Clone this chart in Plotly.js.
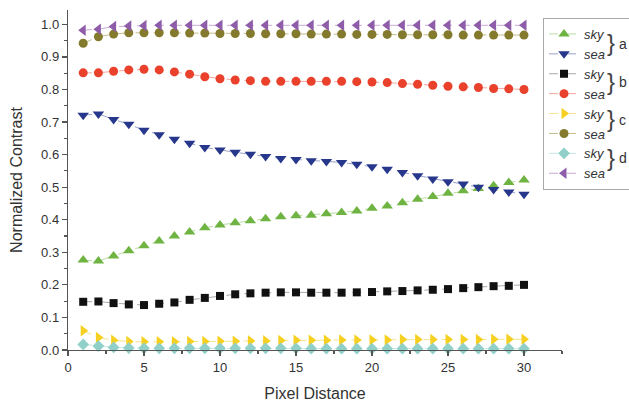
<!DOCTYPE html>
<html>
<head>
<meta charset="utf-8">
<script src="https://cdn.plot.ly/plotly-3.0.1.min.js"></script>
<style>html,body{margin:0;padding:0;background:#fff;}#chart{width:629px;height:403px;}</style>
</head>
<body>
<div id="chart"></div>
<script>
// ---- data ----
var pixelDistance = [1,2,3,4,5,6,7,8,9,10,11,12,13,14,15,16,17,18,19,20,21,22,23,24,25,26,27,28,29,30];
var skyA = [0.276,0.273,0.289,0.305,0.320,0.335,0.350,0.362,0.375,0.384,0.391,0.397,0.403,0.409,0.412,0.414,0.418,0.422,0.427,0.435,0.442,0.452,0.463,0.471,0.481,0.489,0.496,0.504,0.514,0.522];
var seaA = [0.721,0.725,0.708,0.693,0.675,0.661,0.647,0.635,0.622,0.614,0.607,0.601,0.594,0.588,0.585,0.581,0.579,0.576,0.570,0.563,0.555,0.545,0.535,0.525,0.517,0.510,0.500,0.493,0.485,0.478];
var skyB = [0.148,0.149,0.144,0.140,0.138,0.142,0.146,0.154,0.160,0.166,0.171,0.174,0.176,0.177,0.177,0.176,0.176,0.176,0.177,0.178,0.180,0.181,0.183,0.185,0.187,0.190,0.193,0.196,0.197,0.200];
var seaB = [0.851,0.851,0.856,0.860,0.862,0.860,0.854,0.847,0.839,0.833,0.829,0.827,0.825,0.825,0.825,0.825,0.825,0.825,0.824,0.823,0.821,0.818,0.816,0.813,0.810,0.808,0.806,0.803,0.802,0.800];
var skyC = [0.059,0.038,0.030,0.026,0.025,0.025,0.025,0.026,0.026,0.027,0.027,0.028,0.028,0.029,0.030,0.030,0.030,0.031,0.031,0.031,0.031,0.032,0.032,0.032,0.032,0.032,0.032,0.033,0.033,0.033];
var seaC = [0.942,0.962,0.970,0.974,0.974,0.974,0.974,0.973,0.973,0.972,0.972,0.972,0.971,0.971,0.971,0.970,0.970,0.970,0.969,0.969,0.969,0.968,0.968,0.968,0.968,0.967,0.967,0.967,0.967,0.967];
var skyD = [0.017,0.012,0.008,0.006,0.005,0.005,0.005,0.005,0.005,0.005,0.005,0.005,0.005,0.005,0.005,0.004,0.004,0.004,0.004,0.004,0.004,0.004,0.004,0.004,0.004,0.004,0.004,0.004,0.004,0.004];
var seaD = [0.982,0.985,0.993,0.995,0.996,0.997,0.997,0.997,0.997,0.997,0.997,0.997,0.997,0.997,0.997,0.997,0.997,0.997,0.997,0.997,0.997,0.997,0.997,0.997,0.997,0.997,0.997,0.997,0.997,0.997];
var seriesNames = ['sky','sea','sky','sea','sky','sea','sky','sea'];
var groupLetters = ['a','b','c','d'];
var xTitle = 'Pixel Distance';
var yTitle = 'Normalized Contrast';

// ---- styles ----
var W = 629, H = 403;
var M = {l:68, r:67, t:10, b:53};
var PAD = '\u00a0\u00a0\u00a0\u00a0\u00a0\u00a0';
var styles = [
  {sym:'triangle-up',    mc:'#6fb443', lc:'#b9dca2', size:10},
  {sym:'triangle-down',  mc:'#27378c', lc:'#9aa3cc', size:10},
  {sym:'square',         mc:'#111111', lc:'#aaaaaa', size:8},
  {sym:'circle',         mc:'#e9412c', lc:'#f3a79c', size:9},
  {sym:'triangle-right', mc:'#f6d021', lc:'#f6e38d', size:10},
  {sym:'circle',         mc:'#847a2d', lc:'#c5bd8a', size:9},
  {sym:'diamond',        mc:'#90d0c9', lc:'#c6e8e4', size:9},
  {sym:'triangle-left',  mc:'#8e5ca9', lc:'#c6a9d6', size:10}
];
var ys = [skyA, seaA, skyB, seaB, skyC, seaC, skyD, seaD];

var traces = ys.map(function(y, i){
  var s = styles[i];
  return {
    type:'scatter', mode:'lines+markers',
    x: pixelDistance, y: y,
    name: '<i>' + seriesNames[i] + '</i>' + PAD,
    cliponaxis:false,
    line:{color:s.lc, width:1, dash:'dash'},
    marker:{symbol:s.sym, color:s.mc, size:s.size, line:{width:0}}
  };
});

var plotW = W - M.l - M.r, plotH = H - M.t - M.b;
function pxX(px){ return (px - M.l) / plotW; }
function pxY(py){ return (H - M.b - py) / plotH; }

var legendLeft = 543, legendTop = 18;
var annotations = [];
groupLetters.forEach(function(letter, k){
  var cy = legendTop + 25 + 38*k;
  annotations.push({xref:'paper', yref:'paper', x:pxX(611), y:pxY(cy), xanchor:'center', yanchor:'middle',
    text:'}', showarrow:false, font:{family:'Liberation Sans, Arial, sans-serif', size:24, color:'#444'}});
  annotations.push({xref:'paper', yref:'paper', x:pxX(617), y:pxY(cy + 1), xanchor:'left', yanchor:'middle',
    text:letter, showarrow:false, font:{family:'Liberation Sans, Arial, sans-serif', size:14, color:'#333'}});
});

var axisFont = {family:'Liberation Sans, Arial, sans-serif', size:13, color:'#333'};
var layout = {
  width:W, height:H,
  margin:{l:M.l, r:M.r, t:M.t, b:M.b, pad:0, autoexpand:false},
  paper_bgcolor:'#ffffff', plot_bgcolor:'#ffffff',
  showlegend:true,
  legend:{x:pxX(legendLeft), y:pxY(legendTop), xanchor:'left', yanchor:'top',
    bordercolor:'#aaaaaa', borderwidth:1, bgcolor:'#ffffff',
    font:{family:'Liberation Sans, Arial, sans-serif', size:13, color:'#333'}, tracegroupgap:0},
  xaxis:{range:[0,32.5], showgrid:false, zeroline:false, showline:true, linecolor:'#555', linewidth:1.2,
    ticks:'outside', ticklen:5, tickcolor:'#555', tickwidth:1.2, tick0:0, dtick:5, tickfont:axisFont,
    minor:{ticks:'outside', ticklen:3, tickcolor:'#555', dtick:2.5, tick0:0, showgrid:false},
    title:{text:xTitle, font:{family:'Liberation Sans, Arial, sans-serif', size:16, color:'#333'}, standoff:14}},
  yaxis:{range:[0,1.044], showgrid:false, zeroline:false, showline:true, linecolor:'#555', linewidth:1.2,
    ticks:'outside', ticklen:5, tickcolor:'#555', tickwidth:1.2, tick0:0, dtick:0.1, tickformat:'.1f', tickfont:axisFont,
    minor:{ticks:'outside', ticklen:3, tickcolor:'#555', dtick:0.05, tick0:0, showgrid:false},
    title:{text:yTitle, font:{family:'Liberation Sans, Arial, sans-serif', size:16, color:'#333'}, standoff:14}},
  annotations:annotations
};

Plotly.newPlot('chart', traces, layout, {displayModeBar:false, staticPlot:true});
</script>
</body>
</html>
